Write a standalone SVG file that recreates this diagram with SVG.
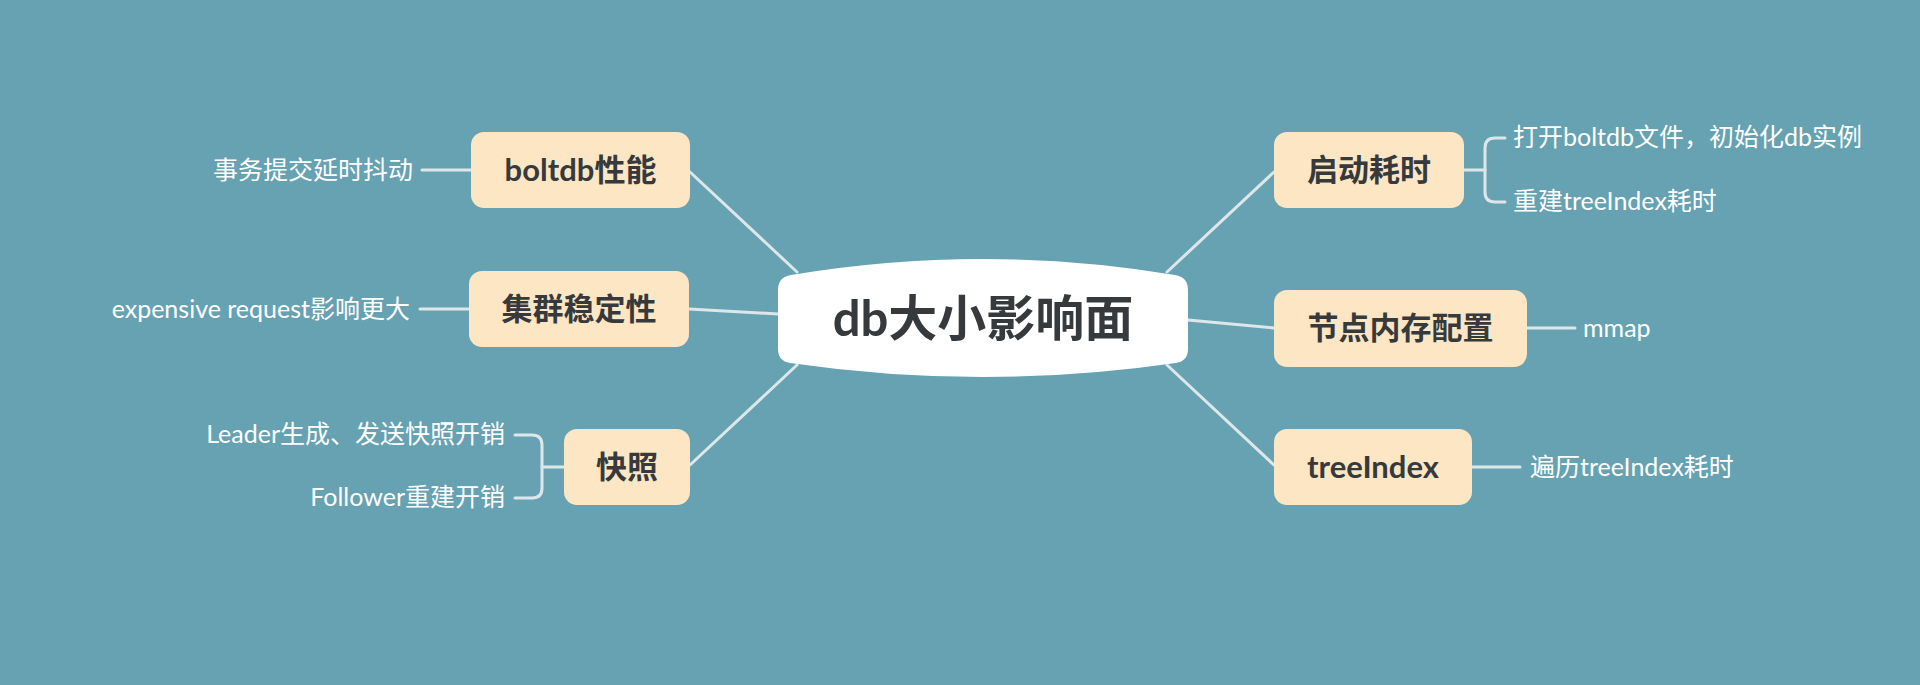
<svg xmlns="http://www.w3.org/2000/svg" width="1920" height="685" viewBox="0 0 1920 685">
  <style>
    .conn { fill: none; stroke: #dde7ea; stroke-width: 3; stroke-linecap: round; }
    .box { fill: #fde6c4; }
    .main { font-family: "Lato", "Noto Sans CJK SC", sans-serif; font-weight: 700; font-size: 31px; fill: #363a3d; text-anchor: middle; }
    .label { font-family: "Lato", "Noto Sans CJK SC", sans-serif; font-size: 25px; fill: #ffffff; }
    .center { font-family: "Lato", "Noto Sans CJK SC", sans-serif; font-weight: 700; font-size: 49px; fill: #363a3d; text-anchor: middle; }
  </style>
  <rect x="0" y="0" width="1920" height="685" fill="#66a2b2"/>

  <g id="connectors">
    <path class="conn" d="M690 172 L797 272"/>
    <path class="conn" d="M689 309 L778 314"/>
    <path class="conn" d="M690 465 L797 365"/>
    <path class="conn" d="M1274 172 L1167 272"/>
    <path class="conn" d="M1274 328 L1188 320"/>
    <path class="conn" d="M1274 465 L1167 365"/>
    <path class="conn" d="M422 170 H471"/>
    <path class="conn" d="M420 309 H469"/>
    <path class="conn" d="M564 467 H542"/>
    <path class="conn" d="M515 435 H532 Q542 435 542 445 V488 Q542 498 532 498 H515"/>
    <path class="conn" d="M1464 170 H1485"/>
    <path class="conn" d="M1505 138 H1495 Q1485 138 1485 148 V192 Q1485 202 1495 202 H1505"/>
    <path class="conn" d="M1527 328 H1575"/>
    <path class="conn" d="M1472 467 H1520"/>
  </g>

  <g id="center">
    <path fill="#ffffff" d="M791 275 Q983 243 1175 275 Q1188 277 1188 290 V349 Q1188 361 1176 363 Q983 391 790 363 Q778 361 778 349 V290 Q778 277 791 275 Z"/>
    <text class="center" x="983" y="336">db大小影响面</text>
  </g>

  <g id="node-boltdb">
    <rect class="box" x="471" y="132" width="219" height="76" rx="13"/>
    <text class="main" x="580.5" y="181">boltdb性能</text>
  </g>
  <g id="label-boltdb">
    <text class="label" x="413" y="179" text-anchor="end">事务提交延时抖动</text>
  </g>

  <g id="node-cluster">
    <rect class="box" x="469" y="271" width="220" height="76" rx="13"/>
    <text class="main" x="579" y="320">集群稳定性</text>
  </g>
  <g id="label-cluster">
    <text class="label" x="410" y="318" text-anchor="end">expensive request影响更大</text>
  </g>

  <g id="node-snapshot">
    <rect class="box" x="564" y="429" width="126" height="76" rx="13"/>
    <text class="main" x="627" y="478">快照</text>
  </g>
  <g id="label-snapshot-1">
    <text class="label" x="505" y="443" text-anchor="end">Leader生成、发送快照开销</text>
  </g>
  <g id="label-snapshot-2">
    <text class="label" x="505" y="506" text-anchor="end">Follower重建开销</text>
  </g>

  <g id="node-startup">
    <rect class="box" x="1274" y="132" width="190" height="76" rx="13"/>
    <text class="main" x="1369" y="181">启动耗时</text>
  </g>
  <g id="label-startup-1">
    <text class="label" x="1513" y="146">打开boltdb文件，初始化db实例</text>
  </g>
  <g id="label-startup-2">
    <text class="label" x="1513" y="210">重建treeIndex耗时</text>
  </g>

  <g id="node-memory">
    <rect class="box" x="1274" y="290" width="253" height="77" rx="13"/>
    <text class="main" x="1400.5" y="339">节点内存配置</text>
  </g>
  <g id="label-memory">
    <text class="label" x="1583" y="337">mmap</text>
  </g>

  <g id="node-treeindex">
    <rect class="box" x="1274" y="429" width="198" height="76" rx="13"/>
    <text class="main" x="1373" y="478">treeIndex</text>
  </g>
  <g id="label-treeindex">
    <text class="label" x="1530" y="476">遍历treeIndex耗时</text>
  </g>
</svg>
